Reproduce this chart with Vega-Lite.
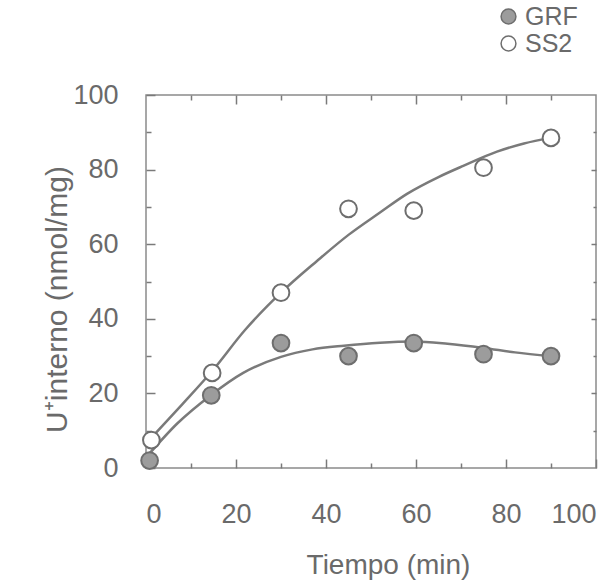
{
  "$schema": "https://vega.github.io/schema/vega-lite/v6.json",
  "autosize": {"type": "none"},
  "width": 450,
  "height": 373,
  "padding": {"left": 146, "top": 95, "right": 10, "bottom": 115},
  "background": "white",
  "config": {
    "view": {"stroke": "#8a8a8a", "strokeWidth": 1.5},
    "font": "Liberation Sans",
    "axis": {"grid": false, "domain": false, "tickColor": "#7a7a7a", "tickWidth": 1.5, "labelColor": "#6a6a6a", "titleColor": "#6a6a6a", "labelFont": "Liberation Sans", "titleFont": "Liberation Sans", "titleFontWeight": "normal"}
  },
  "datasets": {
    "curves": [
      {"serie": "SS2", "t": 1.5, "v": 8.5}, {"serie": "SS2", "t": 8, "v": 17}, {"serie": "SS2", "t": 14.7, "v": 26},
      {"serie": "SS2", "t": 22, "v": 37}, {"serie": "SS2", "t": 30, "v": 47}, {"serie": "SS2", "t": 38, "v": 55.5},
      {"serie": "SS2", "t": 45, "v": 62.5}, {"serie": "SS2", "t": 52, "v": 68.5}, {"serie": "SS2", "t": 58, "v": 73.5},
      {"serie": "SS2", "t": 65, "v": 78}, {"serie": "SS2", "t": 70.5, "v": 81}, {"serie": "SS2", "t": 78, "v": 84.8},
      {"serie": "SS2", "t": 84, "v": 87}, {"serie": "SS2", "t": 90, "v": 88.5},
      {"serie": "GRF", "t": 0.5, "v": 3.5}, {"serie": "GRF", "t": 7, "v": 12}, {"serie": "GRF", "t": 14.5, "v": 19.6},
      {"serie": "GRF", "t": 21.6, "v": 25.5}, {"serie": "GRF", "t": 30, "v": 29.8}, {"serie": "GRF", "t": 37, "v": 31.8},
      {"serie": "GRF", "t": 44, "v": 32.8}, {"serie": "GRF", "t": 52, "v": 33.6}, {"serie": "GRF", "t": 59.5, "v": 33.9},
      {"serie": "GRF", "t": 67, "v": 33.3}, {"serie": "GRF", "t": 75, "v": 32.2}, {"serie": "GRF", "t": 82, "v": 31},
      {"serie": "GRF", "t": 90, "v": 30}
    ],
    "points": [
      {"serie": "GRF", "t": 0.8, "v": 2}, {"serie": "GRF", "t": 14.5, "v": 19.5}, {"serie": "GRF", "t": 30, "v": 33.5},
      {"serie": "GRF", "t": 45, "v": 30}, {"serie": "GRF", "t": 59.5, "v": 33.5}, {"serie": "GRF", "t": 75, "v": 30.5},
      {"serie": "GRF", "t": 90, "v": 30},
      {"serie": "SS2", "t": 1.2, "v": 7.5}, {"serie": "SS2", "t": 14.7, "v": 25.5}, {"serie": "SS2", "t": 30, "v": 47},
      {"serie": "SS2", "t": 45, "v": 69.5}, {"serie": "SS2", "t": 59.5, "v": 69}, {"serie": "SS2", "t": 75, "v": 80.5},
      {"serie": "SS2", "t": 90, "v": 88.5}
    ]
  },
  "layer": [
    {
      "data": {"name": "curves"},
      "mark": {"type": "line", "interpolate": "monotone", "color": "#7a7a7a", "strokeWidth": 2.5},
      "encoding": {
        "detail": {"field": "serie"},
        "x": {"field": "t", "type": "quantitative", "scale": {"domain": [0, 100], "nice": false},
          "axis": {"orient": "bottom", "values": [0, 20, 40, 60, 80, 100], "offset": -9, "tickSize": 9, "labelPadding": 33, "labelFontSize": 27, "title": "Tiempo (min)", "titleFontSize": 28, "titlePadding": 24, "titleX": 242}},
        "y": {"field": "v", "type": "quantitative", "scale": {"domain": [0, 100], "nice": false},
          "axis": {"orient": "left", "values": [0, 20, 40, 60, 80, 100], "offset": -9, "tickSize": 9, "labelPadding": 28, "labelFontSize": 27, "title": "U⁺interno (nmol/mg)", "titleFontSize": 30, "titlePadding": 0, "titleY": 204}}
      }
    },
    {
      "data": {"name": "points"},
      "mark": {"type": "point", "shape": "circle", "filled": true, "size": 280, "stroke": "#6e6e6e", "strokeWidth": 2, "opacity": 1},
      "encoding": {
        "x": {"field": "t", "type": "quantitative",
          "axis": {"orient": "top", "values": [20, 40, 60, 80], "offset": -9, "tickSize": 9, "labels": false, "title": null}},
        "y": {"field": "v", "type": "quantitative",
          "axis": {"orient": "right", "values": [20, 40, 60, 80], "offset": -5, "tickSize": 5, "labels": false, "title": null}},
        "fill": {"field": "serie", "type": "nominal",
          "scale": {"domain": ["GRF", "SS2"], "range": ["#9c9c9c", "#ffffff"]},
          "legend": {"title": null, "orient": "none", "legendX": 350, "legendY": -91, "padding": 0, "symbolType": "circle", "symbolSize": 220, "symbolStrokeColor": "#6e6e6e", "symbolStrokeWidth": 1.5, "labelFontSize": 25, "labelColor": "#6a6a6a", "labelFont": "Liberation Sans", "rowPadding": 1, "labelOffset": 4}}
      }
    },
    {
      "data": {"name": "points"},
      "mark": {"type": "point", "opacity": 0},
      "encoding": {
        "x": {"field": "t", "type": "quantitative",
          "axis": {"orient": "bottom", "values": [10, 30, 50, 70, 90], "offset": -5, "tickSize": 5, "labels": false, "title": null}},
        "y": {"field": "v", "type": "quantitative",
          "axis": {"orient": "left", "values": [10, 30, 50, 70, 90], "offset": -5, "tickSize": 5, "labels": false, "title": null}}
      }
    },
    {
      "data": {"name": "points"},
      "mark": {"type": "point", "opacity": 0},
      "encoding": {
        "x": {"field": "t", "type": "quantitative",
          "axis": {"orient": "top", "values": [10, 30, 50, 70, 90], "offset": -5, "tickSize": 5, "labels": false, "title": null}},
        "y": {"field": "v", "type": "quantitative",
          "axis": {"orient": "right", "values": [10, 30, 50, 70, 90], "offset": -3, "tickSize": 3, "labels": false, "title": null}}
      }
    }
  ],
  "resolve": {"axis": {"x": "independent", "y": "independent"}}
}
